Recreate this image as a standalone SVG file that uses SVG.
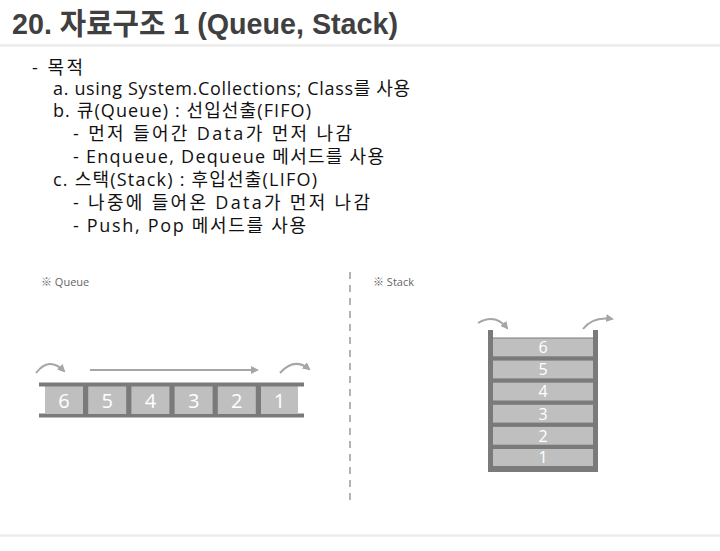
<svg xmlns="http://www.w3.org/2000/svg" width="720" height="551" viewBox="0 0 720 551">
<style>
.title{font-family:"Liberation Sans","Noto Sans CJK KR",sans-serif;font-weight:bold;font-size:30px;fill:#404040}
.body{font-family:"Open Sans","Noto Sans CJK KR",sans-serif;font-size:18px;fill:#111}
.lbl{font-family:"Open Sans","Noto Sans CJK KR",sans-serif;font-size:11px;fill:#666}
.dark{fill:#7a7a7a}
.cell{fill:#bfbfbf}
.qn{font-family:"Open Sans","Noto Sans CJK KR",sans-serif;font-size:20px;fill:#fff;text-anchor:middle}
.sn{font-family:"Open Sans","Noto Sans CJK KR",sans-serif;font-size:16px;fill:#fff;text-anchor:middle}
.arr{fill:none;stroke:#a6a6a6;stroke-width:2;marker-end:url(#ah)}
</style>
<defs>
<marker id="ah" markerUnits="userSpaceOnUse" markerWidth="8" markerHeight="8" refX="6" refY="4" orient="auto">
<path d="M0,0 L8,4 L0,8 Z" fill="#a6a6a6"/>
</marker>
</defs>
<rect width="720" height="551" fill="#fff"/>
<g id="header">
<text class="title" x="12" y="34" textLength="386" lengthAdjust="spacingAndGlyphs">20. 자료구조 1 (Queue, Stack)</text>
<rect x="0" y="44.3" width="720" height="2.4" fill="#ececec"/>
<rect x="0" y="534.3" width="720" height="2.4" fill="#ececec"/>
</g>
<g id="bullets">
<text class="body" x="32" y="74" textLength="51">- 목적</text>
<text class="body" x="53" y="95" textLength="357">a. using System.Collections; Class를 사용</text>
<text class="body" x="53" y="117" textLength="258">b. 큐(Queue) : 선입선출(FIFO)</text>
<text class="body" x="73" y="140" textLength="279">- 먼저 들어간 Data가 먼저 나감</text>
<text class="body" x="73" y="163" textLength="311">- Enqueue, Dequeue 메서드를 사용</text>
<text class="body" x="53" y="186" textLength="264">c. 스택(Stack) : 후입선출(LIFO)</text>
<text class="body" x="73" y="209" textLength="297">- 나중에 들어온 Data가 먼저 나감</text>
<text class="body" x="73" y="232" textLength="233">- Push, Pop 메서드를 사용</text>
</g>
<g id="divider">
<line x1="350" y1="272" x2="350" y2="505" stroke="#9a9a9a" stroke-width="1.5" stroke-dasharray="7 6"/>
</g>
<g id="queue">
<text class="lbl" x="41" y="286">※ Queue</text>
<rect class="dark" x="39" y="382.5" width="265" height="4"/>
<rect class="dark" x="39" y="413.5" width="265" height="4"/>
<rect class="dark" x="45" y="386" width="253" height="28"/>
<rect class="cell" x="45" y="386.5" width="38" height="27.5"/>
<rect class="cell" x="88.2" y="386.5" width="38" height="27.5"/>
<rect class="cell" x="131.4" y="386.5" width="38" height="27.5"/>
<rect class="cell" x="174.6" y="386.5" width="38" height="27.5"/>
<rect class="cell" x="217.8" y="386.5" width="38" height="27.5"/>
<rect class="cell" x="261" y="386.5" width="37" height="27.5"/>
<text class="qn" x="64" y="407.5">6</text>
<text class="qn" x="107.2" y="407.5">5</text>
<text class="qn" x="150.4" y="407.5">4</text>
<text class="qn" x="193.6" y="407.5">3</text>
<text class="qn" x="236.8" y="407.5">2</text>
<text class="qn" x="279.5" y="407.5">1</text>
</g>
<g id="stack">
<text class="lbl" x="373" y="286">※ Stack</text>
<rect class="dark" x="488" y="330" width="5" height="142"/>
<rect class="dark" x="593" y="330" width="5" height="142"/>
<rect class="dark" x="488" y="337.5" width="110" height="134.5"/>
<rect class="cell" x="493" y="338.5" width="100" height="17.8"/>
<rect class="cell" x="493" y="360.6" width="100" height="17.8"/>
<rect class="cell" x="493" y="382.7" width="100" height="17.8"/>
<rect class="cell" x="493" y="404.8" width="100" height="17.8"/>
<rect class="cell" x="493" y="426.9" width="100" height="17.8"/>
<rect class="cell" x="493" y="449" width="100" height="17"/>
<text class="sn" x="543" y="353.2">6</text>
<text class="sn" x="543" y="375.3">5</text>
<text class="sn" x="543" y="397.4">4</text>
<text class="sn" x="543" y="419.5">3</text>
<text class="sn" x="543" y="441.6">2</text>
<text class="sn" x="543" y="463.3">1</text>
</g>
<g id="connectors">
<path class="arr" d="M36,373 Q49,356 64,371"/>
<path class="arr" d="M90,370 L257,370"/>
<path class="arr" d="M280,373 Q294,357 309,369"/>
<path class="arr" d="M478,323 Q495,313 507,328"/>
<path class="arr" d="M583,329 Q593,316 612,319"/>
</g>
</svg>
